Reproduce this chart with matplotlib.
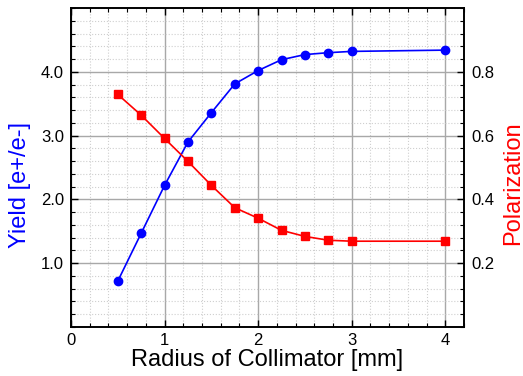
import matplotlib
matplotlib.use('Agg')
import matplotlib.pyplot as plt
from matplotlib.ticker import MultipleLocator, FixedLocator, FormatStrFormatter

plt.rcParams['font.family'] = ['Liberation Sans', 'DejaVu Sans']

# 読み取ったデータ
radius = [0.5, 0.75, 1.0, 1.25, 1.5, 1.75, 2.0, 2.25, 2.5, 2.75, 3.0, 4.0]
yield_ee = [0.72, 1.47, 2.22, 2.90, 3.36, 3.81, 4.02, 4.19, 4.27, 4.30, 4.32, 4.34]
polarization = [0.729, 0.664, 0.591, 0.519, 0.444, 0.374, 0.341, 0.303, 0.284, 0.272, 0.269, 0.269]

yield_ticks = [1.0, 2.0, 3.0, 4.0]
pol_ticks = [0.2, 0.4, 0.6, 0.8]

fig = plt.figure(figsize=(5.23, 3.76), dpi=100)
ax1 = fig.add_axes([0.1358, 0.1303, 0.7514, 0.8484])
ax2 = ax1.twinx()

ax1.set_xlim(0, 4.2)
ax1.set_ylim(0, 5)
ax2.set_ylim(0, 1)

# グリッド
ax1.xaxis.set_major_locator(MultipleLocator(1))
ax1.xaxis.set_minor_locator(MultipleLocator(0.2))
ax1.yaxis.set_major_locator(FixedLocator(yield_ticks))
ax1.yaxis.set_minor_locator(MultipleLocator(0.2))
ax1.yaxis.set_major_formatter(FormatStrFormatter('%.1f'))
ax2.yaxis.set_major_locator(FixedLocator(pol_ticks))
ax2.yaxis.set_minor_locator(MultipleLocator(0.04))
ax2.yaxis.set_major_formatter(FormatStrFormatter('%.1f'))

ax1.grid(True, which='major', color='#a8a8a8', linewidth=1.0, linestyle='-')
ax1.grid(True, which='minor', color='#cfcfcf', linewidth=0.8, linestyle=':')
ax1.set_axisbelow(True)

ax1.plot(radius, yield_ee, '-o', color='#0000ff', markersize=6, linewidth=1.2, zorder=3)
ax2.plot(radius, polarization, '-s', color='#ff0000', markersize=5.5, linewidth=1.2, zorder=3)

ax1.tick_params(axis='both', which='both', direction='in', top=True, labelsize=12, colors='black')
ax1.tick_params(axis='both', which='major', length=5, width=1, pad=5)
ax1.tick_params(axis='y', which='both', right=False)
ax1.tick_params(axis='both', which='minor', length=3, width=0.8)
ax1.tick_params(axis='x', which='major', pad=4)
ax2.tick_params(axis='y', which='major', direction='in', length=5, width=1, labelsize=12, pad=5)
ax2.tick_params(axis='y', which='minor', direction='in', length=3, width=0.8)

for ax in (ax1, ax2):
    for s in ax.spines.values():
        s.set_linewidth(1.2)

ax1.set_xlabel('Radius of Collimator [mm]', fontsize=17, labelpad=1)
ax1.set_ylabel('Yield [e+/e-]', fontsize=17, color='#0000ff')
ax2.set_ylabel('Polarization', fontsize=17, color='#ff0000')
ax1.yaxis.set_label_coords(-0.103, 0.445)
ax2.yaxis.set_label_coords(1.097, 0.45)

plt.savefig('out.png', dpi=100)
